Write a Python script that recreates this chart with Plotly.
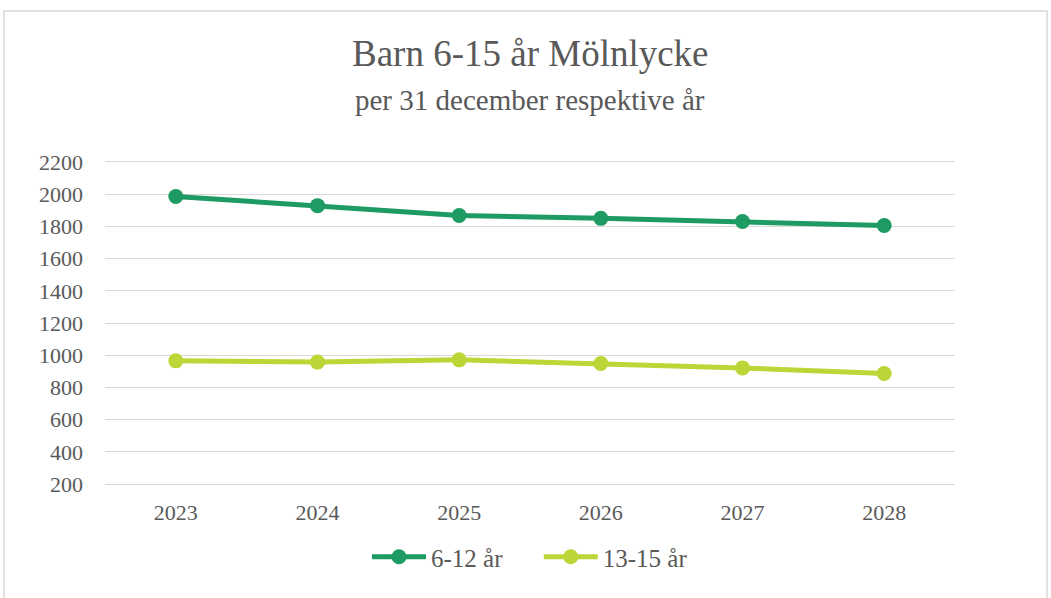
import plotly.graph_objects as go

years = ["2023", "2024", "2025", "2026", "2027", "2028"]
barn_6_12 = [1986, 1929, 1868, 1850, 1830, 1806]
barn_13_15 = [965, 957, 971, 948, 921, 886]
y_ticks = [200, 400, 600, 800, 1000, 1200, 1400, 1600, 1800, 2000, 2200]

W, H = 1051, 598
L, R, T, B = 105, 96, 162, 114
pw, ph = W - L - R, H - T - B

NB = "\u00a0"
fig = go.Figure()
fig.add_trace(go.Scatter(x=years, y=barn_6_12, name="6-12 år" + NB * 5, mode="lines+markers",
                         line=dict(color="#1E9B62", width=5),
                         marker=dict(size=15, color="#1E9B62")))
fig.add_trace(go.Scatter(x=years, y=barn_13_15, name="13-15 år", mode="lines+markers",
                         line=dict(color="#BBD636", width=5),
                         marker=dict(size=15, color="#BBD636")))

font = "Liberation Serif, Times New Roman, serif"
fig.update_layout(
    width=W, height=H,
    margin=dict(l=L, r=R, t=T, b=B),
    paper_bgcolor="white", plot_bgcolor="white",
    font=dict(family=font, color="#595959", size=22),
    showlegend=True,
    legend=dict(orientation="h", x=0.5, xanchor="center", y=-(557 - 484) / ph, yanchor="middle",
                font=dict(size=25, family=font, color="#595959"), itemwidth=54),
    xaxis=dict(type="category", showgrid=False, showline=True, mirror=True,
               linecolor="#D9D9D9", linewidth=1.3, zeroline=False,
               tickfont=dict(size=22), ticks="", range=[-0.5, 5.5], ticklabelstandoff=8),
    yaxis=dict(range=[200, 2200], tickvals=y_ticks, showgrid=True, gridcolor="#D9D9D9",
               gridwidth=1.3, zeroline=False, showline=False, ticks="",
               tickfont=dict(size=22), ticklabelstandoff=21),
    annotations=[
        dict(text="Barn 6-15 år Mölnlycke", xref="paper", yref="paper", x=0.5,
             y=(484 - 53) / ph, xanchor="center", yanchor="middle", showarrow=False,
             font=dict(size=37, family=font, color="#595959")),
        dict(text="per 31 december respektive år", xref="paper", yref="paper", x=0.5,
             y=(484 - 100) / ph, xanchor="center", yanchor="middle", showarrow=False,
             font=dict(size=29, family=font, color="#595959")),
    ],
    shapes=[
        dict(type="rect", xref="paper", yref="paper",
             x0=(4 - L) / pw, x1=(1047 - L) / pw, y0=(484 - 640) / ph, y1=(484 - 11) / ph,
             line=dict(color="#D9D9D9", width=1.5), fillcolor="rgba(0,0,0,0)", layer="below"),
    ],
)

fig.write_html("out.html", config={"displayModeBar": False},
               post_script="document.body.style.margin='0';")
